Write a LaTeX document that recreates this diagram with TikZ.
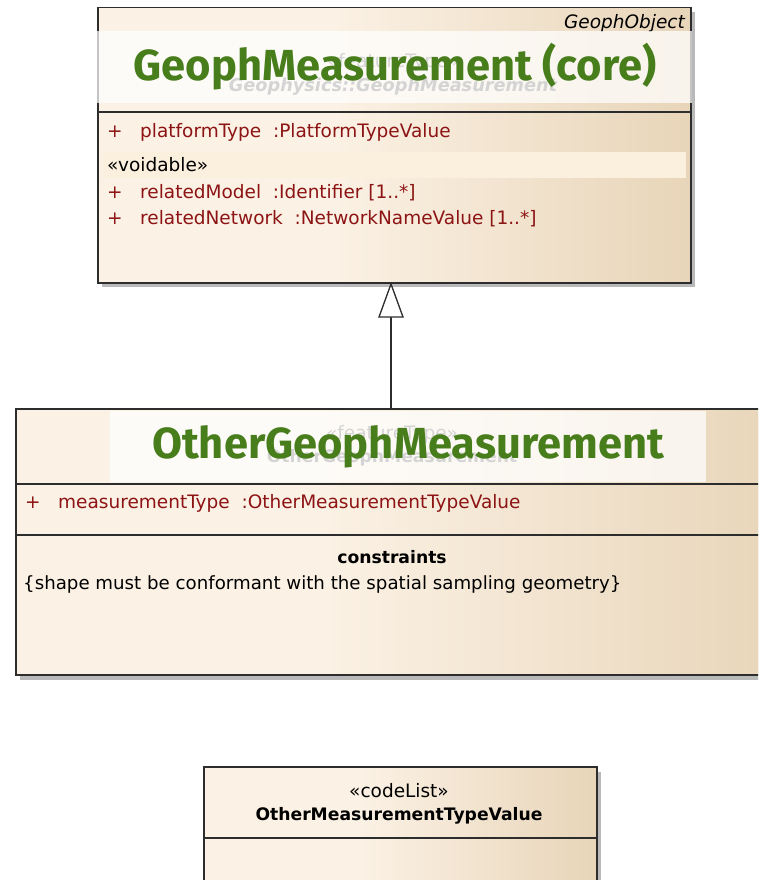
\documentclass[tikz,border=0pt]{standalone}
\usepackage{fontspec}
\newfontfamily\umlfont{DejaVu Sans}
\newfontfamily\ovfont{Fira Sans}
\definecolor{cLight}{RGB}{251,241,228}
\definecolor{cDark}{RGB}{232,213,185}
\definecolor{attrred}{RGB}{140,20,20}
\definecolor{ovgreen}{RGB}{72,125,28}
\definecolor{lineg}{RGB}{45,45,45}
\definecolor{shadowg}{RGB}{185,185,185}
\definecolor{voidband}{RGB}{251,240,222}
\pgfdeclarehorizontalshading{umlshade}{100bp}{color(0bp)=(cLight); color(25bp)=(cLight); color(45bp)=(cLight); color(75bp)=(cDark); color(100bp)=(cDark)}
\newcommand{\regsz}{\fontsize{18.5}{21}\selectfont}
\newcommand{\boldsz}{\fontsize{17.2}{20}\selectfont}
\tikzset{
  umlbox/.style={draw=lineg, line width=1.5pt, shading=umlshade, anchor=north west, inner sep=0pt},
  shadowbox/.style={fill=shadowg, draw=none, anchor=north west, inner sep=0pt},
  attr/.style={anchor=west, inner sep=0pt, text=attrred, font=\umlfont\regsz},
  plain/.style={anchor=west, inner sep=0pt, text=black, font=\umlfont\regsz},
  greyhead/.style={inner sep=0pt, text=black!60, font=\umlfont\regsz},
  overlay/.style={fill=white, fill opacity=0.72, draw=none, anchor=north west, inner sep=0pt},
  ovtext/.style={inner sep=0pt, text=ovgreen, font=\ovfont\bfseries\fontsize{43.5}{50}\selectfont},
  divider/.style={draw=lineg, line width=1.5pt}
}
\begin{document}
\begin{tikzpicture}[x=1pt,y=-1pt]
\useasboundingbox (0,0) rectangle (758,880);
\clip (0,0) rectangle (758,880);
\fill[white] (0,0) rectangle (758,880);
% ---------- top box ----------
\node[shadowbox, minimum width=593pt, minimum height=275pt] (topsh) at (102,12) {};
\node[umlbox, minimum width=593pt, minimum height=275pt] (top) at (97,7) {};
\coordinate (tdl) at (97,112);
\coordinate (tdr) at (690,112);
\draw[divider] (tdl) -- (tdr);
\node[anchor=east, inner sep=0pt, font=\umlfont\itshape\regsz] (gobj) at (685,23) {GeophObject};
\node[greyhead] (ft1) at (393,62) {«featureType»};
\node[greyhead, font=\umlfont\bfseries\itshape\fontsize{17.7}{20}\selectfont] (gm) at (393,87) {Geophysics::GeophMeasurement};
\node[overlay, minimum width=595pt, minimum height=72pt] (ov1) at (97,31) {};
\node[ovtext] (ov1t) at (395,67) {GeophMeasurement (core)};
\node[attr] (p1) at (107,132) {+};
\node[attr] (a1) at (140,132) {platformType\ \ :PlatformTypeValue};
\node[fill=voidband, anchor=north west, inner sep=0pt, minimum width=583pt, minimum height=26pt] (vb) at (103,152) {};
\node[plain] (vd) at (107,165) {«voidable»};
\node[attr] (p2) at (107,193) {+};
\node[attr] (a2) at (140,193) {relatedModel\ \ :Identifier [1..*]};
\node[attr] (p3) at (107,219) {+};
\node[attr] (a3) at (140,219) {relatedNetwork\ \ :NetworkNameValue [1..*]};
% ---------- middle box ----------
\node[shadowbox, minimum width=770pt, minimum height=266pt] (midsh) at (20,414) {};
\node[umlbox, minimum width=770pt, minimum height=266pt] (mid) at (15,408) {};
\coordinate (mdl) at (15,484);
\coordinate (mdr) at (790,484);
\draw[divider] (mdl) -- (mdr);
\coordinate (mdl2) at (15,535);
\coordinate (mdr2) at (790,535);
\draw[divider] (mdl2) -- (mdr2);
\node[greyhead] (ft2) at (392,434) {«featureType»};
\node[greyhead, font=\umlfont\bfseries\boldsz] (ogm) at (392,458) {OtherGeophMeasurement};
\node[overlay, minimum width=596pt, minimum height=71pt] (ov2) at (110,411) {};
\node[ovtext] (ov2t) at (408,447) {OtherGeophMeasurement};
\node[attr] (p4) at (25,503) {+};
\node[attr] (a4) at (58,503) {measurementType\ \ :OtherMeasurementTypeValue};
\node[inner sep=0pt, font=\umlfont\bfseries\boldsz] (cons) at (392,557) {constraints};
\node[plain, font=\umlfont\fontsize{18.2}{21}\selectfont] (ctext) at (23,584) {\{shape must be conformant with the spatial sampling geometry\}};
% ---------- bottom box ----------
\node[shadowbox, minimum width=393pt, minimum height=130pt] (botsh) at (208,772) {};
\node[umlbox, minimum width=393pt, minimum height=130pt] (bot) at (203,766) {};
\coordinate (bdl) at (203,838);
\coordinate (bdr) at (596,838);
\draw[divider] (bdl) -- (bdr);
\node[inner sep=0pt, font=\umlfont\regsz] (cl) at (399,791) {«codeList»};
\node[inner sep=0pt, font=\umlfont\bfseries\boldsz] (omt) at (399,816) {OtherMeasurementTypeValue};
% ---------- generalization ----------
\coordinate (gtip) at (391,284);
\coordinate (gbl) at (379,317);
\coordinate (gbr) at (403,317);
\coordinate (gbm) at (391,317);
\coordinate (gend) at (391,408);
\draw[lineg, line width=1.3pt] (gbm) -- (gend);
\draw[lineg, line width=1.3pt, fill=white, line join=miter] (gtip) -- (gbl) -- (gbr) -- cycle;
\end{tikzpicture}
\end{document}
